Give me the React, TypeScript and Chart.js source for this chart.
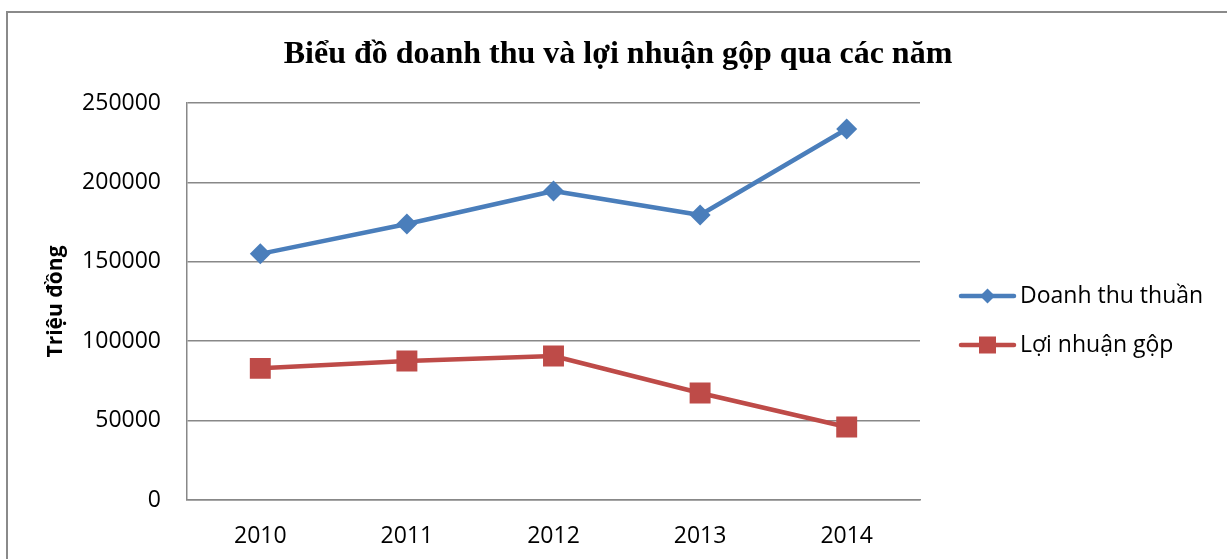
import React, { useEffect, useRef } from 'react';
import { Chart, registerables } from 'chart.js';

Chart.register(...registerables);

const CHART_TITLE = 'Biểu đồ doanh thu và lợi nhuận gộp qua các năm';
const Y_AXIS_TITLE = 'Triệu đồng';
const years = ['2010', '2011', '2012', '2013', '2014'];
const seriesNames = ['Doanh thu thuần', 'Lợi nhuận gộp'];
const doanhThuThuan = [155000, 173800, 194600, 179500, 233600];
const loiNhuanGop = [82900, 87500, 90700, 67400, 46000];
const yMin = 0;
const yMax = 250000;
const yStep = 50000;

const BLUE = '#4A7EBB';
const RED = '#BE4B48';
const GRID = '#888888';
const TICK_FONT = { family: '"Open Sans", sans-serif', size: 23 };

const decorPlugin = {
  id: 'decor',
  beforeDraw(chart: any) {
    const ctx = chart.ctx;
    ctx.save();
    ctx.fillStyle = '#ffffff';
    ctx.fillRect(0, 0, chart.width, chart.height);
    ctx.strokeStyle = '#8a8a8a';
    ctx.lineWidth = 2;
    ctx.beginPath();
    ctx.moveTo(7, chart.height + 5);
    ctx.lineTo(7, 12);
    ctx.lineTo(chart.width + 5, 12);
    ctx.stroke();
    ctx.restore();
  },
  afterDraw(chart: any) {
    const ctx = chart.ctx;
    ctx.save();
    // title
    ctx.fillStyle = '#000000';
    ctx.font = 'bold 32px "Liberation Serif", "Times New Roman", serif';
    ctx.textAlign = 'center';
    ctx.textBaseline = 'alphabetic';
    ctx.fillText(CHART_TITLE, 618, 63);

    // legend
    const items = chart.data.datasets.map((ds: any, i: number) => ({
      label: ds.label,
      color: ds.borderColor,
      style: i === 0 ? 'diamond' : 'square',
      y: i === 0 ? 296 : 345,
    }));
    items.forEach((it: any) => {
      ctx.strokeStyle = it.color;
      ctx.lineWidth = 4.5;
      ctx.lineCap = 'round';
      ctx.beginPath();
      ctx.moveTo(961, it.y);
      ctx.lineTo(1014, it.y);
      ctx.stroke();
      ctx.fillStyle = it.color;
      ctx.beginPath();
      const cx = 987.5;
      if (it.style === 'diamond') {
        const r = 7.5;
        ctx.moveTo(cx - r, it.y);
        ctx.lineTo(cx, it.y - r);
        ctx.lineTo(cx + r, it.y);
        ctx.lineTo(cx, it.y + r);
        ctx.closePath();
      } else {
        const h = 8.5;
        ctx.rect(cx - h, it.y - h, 2 * h, 2 * h);
      }
      ctx.fill();
      ctx.fillStyle = '#000000';
      ctx.font = `${TICK_FONT.size}px ${TICK_FONT.family}`;
      ctx.textAlign = 'left';
      ctx.textBaseline = 'middle';
      ctx.fillText(it.label, 1020, it.y);
    });
    ctx.restore();
  },
};

export default function App() {
  const ref = useRef<HTMLCanvasElement | null>(null);

  useEffect(() => {
    document.body.style.margin = '0';
    const canvas = ref.current;
    if (!canvas) return;
    const chart = new Chart(canvas, {
      type: 'line',
      data: {
        labels: years,
        datasets: [
          {
            label: seriesNames[0],
            data: doanhThuThuan,
            borderColor: BLUE,
            backgroundColor: BLUE,
            borderWidth: 4.5,
            borderJoinStyle: 'round',
            tension: 0,
            pointStyle: 'rectRot',
            pointRadius: 10.5,
            pointHoverRadius: 10.5,
            pointBorderWidth: 0,
            pointBackgroundColor: BLUE,
          },
          {
            label: seriesNames[1],
            data: loiNhuanGop,
            borderColor: RED,
            backgroundColor: RED,
            borderWidth: 4.5,
            borderJoinStyle: 'round',
            tension: 0,
            pointStyle: 'rect',
            pointRadius: 14.8,
            pointHoverRadius: 14.8,
            pointBorderWidth: 0,
            pointBackgroundColor: RED,
          },
        ],
      },
      options: {
        responsive: false,
        animation: false,
        devicePixelRatio: 1,
        layout: { padding: { top: 103, right: 307, bottom: 0, left: 0 } },
        plugins: {
          legend: { display: false },
          title: { display: false },
          tooltip: { enabled: false },
        },
        events: [],
        scales: {
          x: {
            type: 'category',
            offset: true,
            grid: { display: false, drawTicks: false },
            border: { display: true, color: GRID, width: 1.5 },
            ticks: { color: '#000000', font: TICK_FONT, padding: 23, maxRotation: 0 },
            afterFit(scale: any) {
              scale.height = 59;
            },
          },
          y: {
            min: yMin,
            max: yMax,
            grid: { color: GRID, lineWidth: 1.5, drawTicks: false },
            border: { display: true, color: GRID, width: 1.5 },
            ticks: {
              stepSize: yStep,
              color: '#000000',
              font: TICK_FONT,
              padding: 26,
              callback: (v: any) => String(v),
            },
            title: {
              display: true,
              text: Y_AXIS_TITLE,
              color: '#000000',
              font: { family: '"Open Sans", sans-serif', size: 21, weight: 'bold' },
              padding: { top: 43, bottom: 0 },
            },
            afterFit(scale: any) {
              scale.width = 187;
            },
          },
        },
      },
      plugins: [decorPlugin],
    } as any);
    return () => chart.destroy();
  }, []);

  return (
    <div style={{ width: 1227, height: 559 }}>
      <canvas ref={ref} width={1227} height={559} style={{ display: 'block', width: 1227, height: 559 }} />
    </div>
  );
}
